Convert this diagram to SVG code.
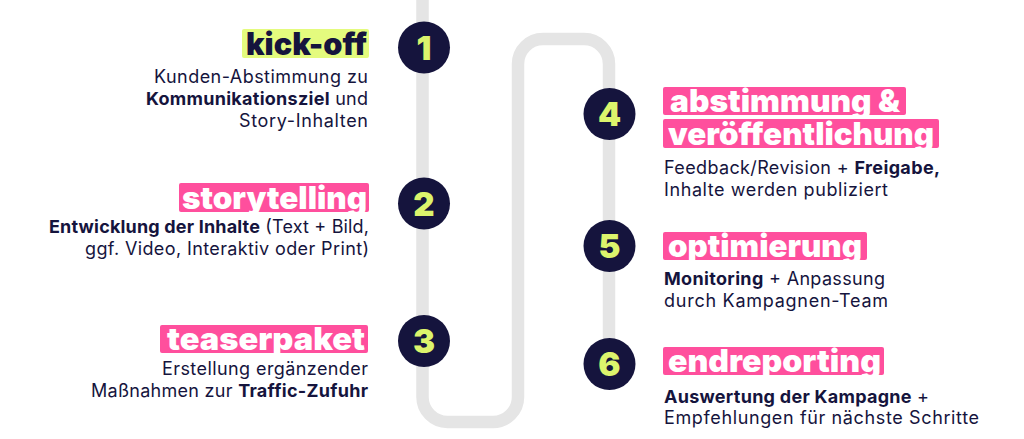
<svg xmlns="http://www.w3.org/2000/svg" width="1024" height="439" viewBox="0 0 1024 439">
<style>
.track{fill:none;stroke:#e5e5e5;stroke-width:12.5}
.dot{fill:#15143d}
.num{font-family:Inter,"Noto Sans",sans-serif;font-weight:900;font-size:33px;fill:#dcf46c;text-anchor:middle}
.head{font-family:Inter,"Noto Sans",sans-serif;font-weight:900;font-size:31px;fill:#ffffff}
.hl{fill:#ff4f9d}
.hl2{fill:#e4fb7e}
.body{font-family:Inter,"Noto Sans",sans-serif;font-size:18px;fill:#15143d}
.b{font-weight:700}
.end{text-anchor:end}
</style>
<rect width="1024" height="439" fill="#ffffff"/>
<g id="connectors">
<path class="track" d="M422.5 0 V397 A25 25 0 0 0 447.5 422 H493 A25 25 0 0 0 518 397 V64 A25 25 0 0 1 543 39 H584 A25 25 0 0 1 609 64 V364"/>
</g>
<g id="step1">
<circle class="dot" cx="424" cy="47.5" r="26"/>
<text class="num" x="424" y="59.5">1</text>
<rect class="hl2" x="242" y="29" width="127" height="29" rx="2"/>
<text class="head end" x="367" y="55" style="fill:#15143d" textLength="121" lengthAdjust="spacingAndGlyphs">kick-off</text>
<text class="body end" x="368" y="83" textLength="214" lengthAdjust="spacing">Kunden-Abstimmung zu</text>
<text class="body end" x="368" y="105" textLength="222" lengthAdjust="spacing"><tspan class="b">Kommunikationsziel</tspan> und</text>
<text class="body end" x="368" y="127" textLength="129" lengthAdjust="spacing">Story-Inhalten</text>
</g>
<g id="step2">
<circle class="dot" cx="424" cy="203.5" r="26"/>
<text class="num" x="424" y="215.5">2</text>
<rect class="hl" x="179" y="183" width="190" height="29" rx="2"/>
<text class="head end" x="367" y="209" textLength="185" lengthAdjust="spacingAndGlyphs">storytelling</text>
<text class="body end" x="369" y="233" textLength="320" lengthAdjust="spacing"><tspan class="b">Entwicklung der Inhalte</tspan> (Text + Bild,</text>
<text class="body end" x="369" y="255" textLength="284" lengthAdjust="spacing">ggf. Video, Interaktiv oder Print)</text>
</g>
<g id="step3">
<circle class="dot" cx="424" cy="341" r="26"/>
<text class="num" x="424" y="353">3</text>
<rect class="hl" x="160" y="325" width="208" height="28" rx="2"/>
<text class="head end" x="365" y="350" textLength="198" lengthAdjust="spacingAndGlyphs">teaserpaket</text>
<text class="body end" x="368" y="375" textLength="206" lengthAdjust="spacing">Erstellung ergänzender</text>
<text class="body end" x="368" y="397" textLength="277" lengthAdjust="spacing">Maßnahmen zur <tspan class="b">Traffic-Zufuhr</tspan></text>
</g>
<g id="step4">
<circle class="dot" cx="609.5" cy="114" r="26"/>
<text class="num" x="609.5" y="126">4</text>
<rect class="hl" x="663" y="87" width="243" height="28" rx="2"/>
<rect class="hl" x="663" y="119" width="276" height="29" rx="2"/>
<text class="head" x="670" y="112" textLength="230" lengthAdjust="spacingAndGlyphs">abstimmung &amp;</text>
<text class="head" x="668" y="145" textLength="266" lengthAdjust="spacingAndGlyphs">veröffentlichung</text>
<text class="body" x="664" y="174" textLength="276" lengthAdjust="spacing">Feedback/Revision + <tspan class="b">Freigabe,</tspan></text>
<text class="body" x="664" y="196" textLength="224" lengthAdjust="spacing">Inhalte werden publiziert</text>
</g>
<g id="step5">
<circle class="dot" cx="609.5" cy="246" r="26"/>
<text class="num" x="609.5" y="258">5</text>
<rect class="hl" x="663" y="232" width="204" height="28" rx="2"/>
<text class="head" x="668" y="257" textLength="194" lengthAdjust="spacingAndGlyphs">optimierung</text>
<text class="body" x="664" y="285" textLength="221" lengthAdjust="spacing"><tspan class="b">Monitoring</tspan> + Anpassung</text>
<text class="body" x="664" y="307" textLength="224" lengthAdjust="spacing">durch Kampagnen-Team</text>
</g>
<g id="step6">
<circle class="dot" cx="609.5" cy="364" r="26"/>
<text class="num" x="609.5" y="376">6</text>
<rect class="hl" x="663" y="347" width="221" height="28" rx="2"/>
<text class="head" x="668" y="372" textLength="213" lengthAdjust="spacingAndGlyphs">endreporting</text>
<text class="body" x="664" y="403" textLength="265" lengthAdjust="spacing"><tspan class="b">Auswertung der Kampagne</tspan> +</text>
<text class="body" x="664" y="424" textLength="315" lengthAdjust="spacing">Empfehlungen für nächste Schritte</text>
</g>
</svg>
